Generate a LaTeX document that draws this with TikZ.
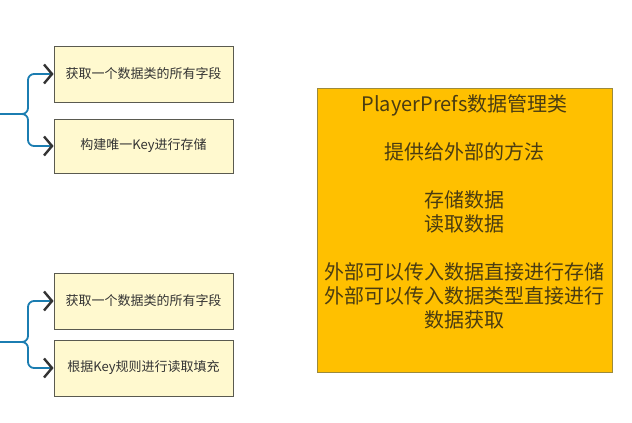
\documentclass[tikz,border=0pt]{standalone}
\usepackage{fontspec}
\setmainfont{Noto Sans CJK SC}
\usetikzlibrary{arrows.meta, positioning}
\definecolor{braceblue}{HTML}{1B7DB1}
\definecolor{tipgray}{HTML}{333333}
\definecolor{notefill}{HTML}{FFF9CF}
\definecolor{noteline}{HTML}{5A5A50}
\definecolor{mgrfill}{HTML}{FFC000}
\definecolor{mgrline}{HTML}{9C8A3C}
\definecolor{mgrtext}{HTML}{4A3C12}

\begin{document}
\begin{tikzpicture}[x=1pt, y=-1pt,
    >={Straight Barb[length=8pt, width=19pt, line width=2.4pt, color=tipgray]},
    note/.style={rectangle, draw=noteline, fill=notefill, line width=0.8pt,
      minimum width=179pt, inner sep=0pt, text=tipgray,
      font=\fontsize{13}{15}\selectfont},
    brace/.style={draw=braceblue, line width=1.8pt, rounded corners=6pt},
    mgrbox/.style={rectangle, draw=mgrline, fill=mgrfill, line width=0.8pt,
      minimum width=295pt, minimum height=284pt, inner sep=0pt},
    mgrlabel/.style={align=center, text=mgrtext, inner sep=0pt,
      font=\fontsize{20}{24}\selectfont}]
    \useasboundingbox (0,0) rectangle (632,423);

    % Nodes
    \node[note, minimum height=56pt] (save1) at (143.5, 74) {获取一个数据类的所有字段};
    \node[note, minimum height=54pt] (save2) at (143.5, 146) {构建唯一Key进行存储};
    \node[note, minimum height=56pt] (load1) at (143.5, 301) {获取一个数据类的所有字段};
    \node[note, minimum height=56pt] (load2) at (143.5, 368) {根据Key规则进行读取填充};

    \node[mgrbox] (mgr) at (464.5, 230) {};
    \node[mgrlabel, anchor=north] (mgrtxt) at ([yshift=-7pt]mgr.north)
      {PlayerPrefs数据管理类\\[24pt]
       提供给外部的方法\\[24pt]
       存储数据\\
       读取数据\\[24pt]
       外部可以传入数据直接进行存储\\
       外部可以传入数据类型直接进行\\
       数据获取};

    % Braces
    \coordinate (savein) at (0, 114);
    \coordinate (loadin) at (0, 342);
    \draw[brace, ->] (savein) -- (28, 114) |- (save1.west);
    \draw[brace, ->] (savein) -- (28, 114) |- (save2.west);
    \draw[brace, ->] (loadin) -- (28, 342) |- (load1.west);
    \draw[brace, ->] (loadin) -- (28, 342) |- (load2.west);
  \end{tikzpicture}
\end{document}
